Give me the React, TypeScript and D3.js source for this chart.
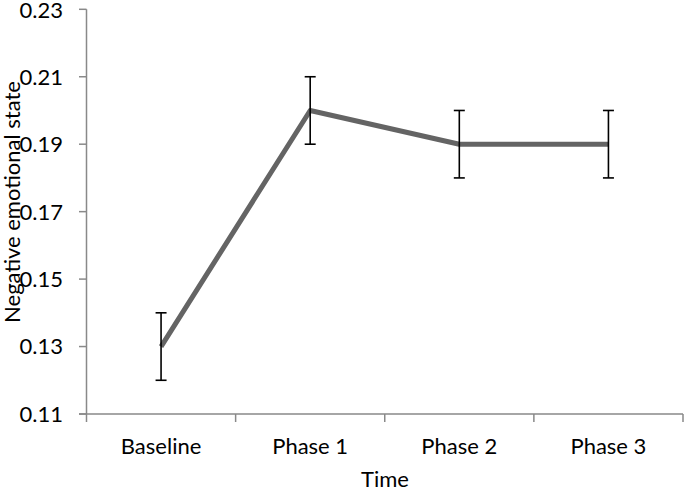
import React from "react";
import * as d3 from "d3";

const categories = ["Baseline", "Phase 1", "Phase 2", "Phase 3"];
const values = [0.13, 0.2, 0.19, 0.19];
const errors = [0.01, 0.01, 0.01, 0.01];
const yTicks = [0.11, 0.13, 0.15, 0.17, 0.19, 0.21, 0.23];

const W = 684;
const H = 492;
const FONT = "Lato, 'Open Sans', sans-serif";
const FS = 22;

export default function App() {
  const x = d3.scaleBand<string>().domain(categories).range([86.5, 683]);
  const y = d3.scaleLinear().domain([0.11, 0.23]).range([414, 9.3]);
  const cx = (c: string) => (x(c) as number) + x.bandwidth() / 2;
  const line = d3
    .line<number>()
    .x((_, i) => cx(categories[i]))
    .y((d) => y(d));
  const axisColor = "#898989";
  const edges = categories.map((c) => x(c) as number).concat([x.range()[1]]);

  return (
    <svg
      width={W}
      height={H}
      style={{ position: "absolute", left: 0, top: 0, background: "#fff" }}
      fontFamily={FONT}
    >
      {/* y axis */}
      <line x1={86.5} x2={86.5} y1={y(0.23)} y2={y(0.11)} stroke={axisColor} strokeWidth={1.5} />
      {yTicks.map((t) => (
        <g key={t}>
          <line x1={79} x2={86.5} y1={y(t)} y2={y(t)} stroke={axisColor} strokeWidth={1.5} />
          <text x={63} y={Math.max(y(t), 10)} dy="0.36em" textAnchor="end" fontSize={FS} fill="#000">
            {t.toFixed(2)}
          </text>
        </g>
      ))}
      {/* x axis */}
      <line x1={79} x2={683} y1={y(0.11)} y2={y(0.11)} stroke={axisColor} strokeWidth={1.5} />
      {edges.map((e, i) => (
        <line key={i} x1={e} x2={e} y1={y(0.11)} y2={y(0.11) + 8} stroke={axisColor} strokeWidth={1.5} />
      ))}
      {categories.map((c) => (
        <text key={c} x={cx(c)} y={454} textAnchor="middle" fontSize={FS} fill="#000">
          {c}
        </text>
      ))}
      <text x={385} y={487} textAnchor="middle" fontSize={FS} fill="#000">
        Time
      </text>
      <text
        transform={`translate(20,202) rotate(-90)`}
        textAnchor="middle"
        fontSize={FS}
        fill="#000"
      >
        Negative emotional state
      </text>
      {/* line */}
      <path d={line(values) || ""} fill="none" stroke="#646464" strokeWidth={5} strokeLinejoin="round" />
      {/* error bars */}
      {values.map((v, i) => {
        const px = cx(categories[i]);
        return (
          <g key={i} stroke="#000" strokeWidth={1.6}>
            <line x1={px} x2={px} y1={y(v + errors[i])} y2={y(v - errors[i])} />
            <line x1={px - 5.5} x2={px + 5.5} y1={y(v + errors[i])} y2={y(v + errors[i])} />
            <line x1={px - 5.5} x2={px + 5.5} y1={y(v - errors[i])} y2={y(v - errors[i])} />
          </g>
        );
      })}
    </svg>
  );
}
